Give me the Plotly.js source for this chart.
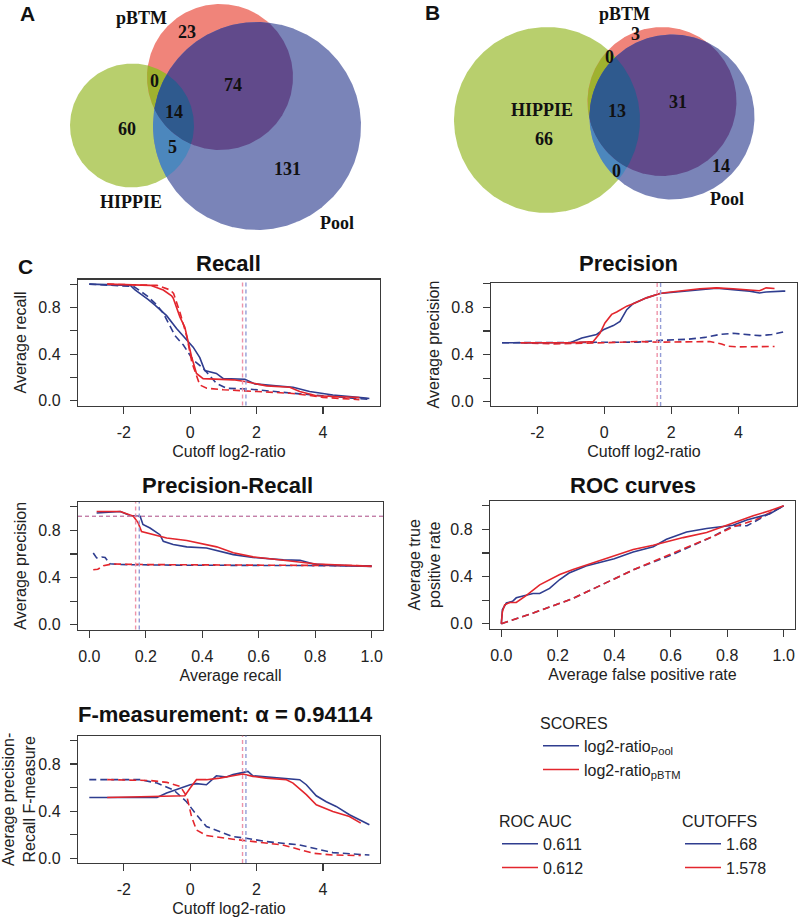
<!DOCTYPE html>
<html><head><meta charset="utf-8">
<script src="https://cdn.plot.ly/plotly-3.0.1.min.js"></script>
<style>html,body{margin:0;padding:0;background:#fff}#chart{width:800px;height:922px}</style>
</head><body><div id="chart"></div>
<script>
// ---------------- DATA ----------------
// Venn counts
const vennA_labels = ['pBTM', 'HIPPIE', 'Pool'];
const vennA_counts = {pbtm: 23, hippie: 60, pool: 131, hippie_pbtm: 0, pbtm_pool: 74, hippie_pool: 5, all: 14};
const vennB_counts = {pbtm: 3, hippie: 66, pool: 14, hippie_pbtm: 0, pbtm_pool: 31, hippie_pool: 0, all: 13};

// Recall vs cutoff
const recall_pool_x = [-3.04, -1.8, -1.66, -1.5, -1.27, -1.06, -0.71, -0.41, -0.11, 0.09, 0.29, 0.44, 0.79, 1.0, 1.65, 1.95, 2.5, 3.1, 3.6, 4.3, 5.3, 5.4];
const recall_pool_y = [1.0, 0.99, 0.95, 0.92, 0.87, 0.82, 0.73, 0.62, 0.52, 0.46, 0.37, 0.26, 0.235, 0.19, 0.185, 0.145, 0.13, 0.117, 0.08, 0.05, 0.023, 0.02];
const recall_pbtm_x = [-2.5, -1.6, -1.2, -0.81, -0.56, -0.51, -0.31, -0.16, -0.06, 0.04, 0.19, 0.39, 1.3, 1.65, 2.3, 3.0, 3.3, 3.8, 4.5, 5.1];
const recall_pbtm_y = [1.0, 0.995, 0.99, 0.95, 0.90, 0.88, 0.72, 0.63, 0.49, 0.38, 0.235, 0.19, 0.18, 0.165, 0.128, 0.117, 0.08, 0.043, 0.035, 0.028];
const recall_pool_rand_x = [-3.04, -1.7, -1.3, -1.0, -0.81, -0.46, -0.21, 0.09, 0.39, 0.79, 1.09, 1.8, 3.3, 4.3, 5.2, 5.4];
const recall_pool_rand_y = [1.0, 0.98, 0.9, 0.82, 0.75, 0.56, 0.48, 0.35, 0.28, 0.15, 0.108, 0.1, 0.06, 0.037, 0.015, 0.012];
const recall_pbtm_rand_x = [-2.5, -1.0, -0.6, -0.5, -0.3, -0.1, 0.05, 0.2, 0.29, 0.5, 1.0, 2.0, 3.0, 3.5, 4.0, 5.1];
const recall_pbtm_rand_y = [1.0, 0.99, 0.95, 0.92, 0.75, 0.55, 0.33, 0.2, 0.136, 0.108, 0.095, 0.08, 0.065, 0.05, 0.03, 0.01];

// Precision vs cutoff
const prec_pool_x = [-3.05, -1.0, -0.67, -0.23, -0.03, 0.27, 0.47, 0.67, 0.86, 1.26, 1.66, 1.86, 2.85, 3.35, 3.84, 4.34, 4.63, 4.83, 5.33, 5.4];
const prec_pool_y = [0.5, 0.502, 0.54, 0.57, 0.61, 0.645, 0.68, 0.78, 0.83, 0.88, 0.917, 0.922, 0.945, 0.962, 0.95, 0.937, 0.922, 0.93, 0.937, 0.937];
const prec_pbtm_x = [-2.5, -1.0, -0.33, -0.13, 0.02, 0.22, 0.37, 0.67, 0.86, 1.26, 1.66, 1.86, 2.85, 3.35, 3.84, 4.34, 4.63, 4.83, 5.08];
const prec_pbtm_y = [0.5, 0.5, 0.51, 0.58, 0.667, 0.74, 0.76, 0.81, 0.83, 0.88, 0.917, 0.925, 0.957, 0.965, 0.957, 0.945, 0.94, 0.965, 0.96];
const prec_pool_rand_x = [-3.05, -1.0, 0.0, 1.0, 1.7, 2.5, 3.0, 3.44, 3.84, 4.3, 4.64, 5.0, 5.4];
const prec_pool_rand_y = [0.5, 0.5, 0.5, 0.505, 0.52, 0.53, 0.545, 0.57, 0.58, 0.565, 0.56, 0.57, 0.595];
const prec_pbtm_rand_x = [-2.5, -1.5, 0.0, 1.0, 1.6, 2.5, 3.15, 3.5, 3.69, 4.0, 4.5, 5.08];
const prec_pbtm_rand_y = [0.5, 0.49, 0.5, 0.51, 0.505, 0.51, 0.51, 0.49, 0.47, 0.465, 0.465, 0.468];

// Precision-Recall
const pr_pool_x = [0.026, 0.073, 0.11, 0.144, 0.18, 0.19, 0.215, 0.25, 0.262, 0.297, 0.345, 0.415, 0.51, 0.58, 0.687, 0.746, 0.795, 0.864, 1.0];
const pr_pool_y = [0.947, 0.956, 0.96, 0.925, 0.92, 0.85, 0.82, 0.763, 0.707, 0.68, 0.66, 0.65, 0.594, 0.57, 0.55, 0.547, 0.515, 0.503, 0.495];
const pr_pbtm_x = [0.026, 0.11, 0.156, 0.173, 0.185, 0.227, 0.274, 0.345, 0.451, 0.51, 0.58, 0.687, 0.805, 1.0];
const pr_pbtm_y = [0.96, 0.96, 0.92, 0.863, 0.79, 0.763, 0.735, 0.714, 0.66, 0.61, 0.575, 0.546, 0.515, 0.495];
const pr_pool_rand_x = [0.014, 0.026, 0.044, 0.056, 0.073, 0.11, 0.3, 0.6, 1.0];
const pr_pool_rand_y = [0.608, 0.566, 0.574, 0.57, 0.517, 0.51, 0.505, 0.502, 0.5];
const pr_pbtm_rand_x = [0.014, 0.03, 0.05, 0.08, 0.2, 0.5, 1.0];
const pr_pbtm_rand_y = [0.466, 0.47, 0.5, 0.515, 0.51, 0.505, 0.5];
const pr_cut_recall = [0.177, 0.164];     // Pool, pBTM
const pr_cut_precision = [0.918, 0.918];  // Pool, pBTM

// ROC
const roc_pool_x = [0, 0.004, 0.018, 0.04, 0.053, 0.089, 0.112, 0.136, 0.171, 0.207, 0.24, 0.30, 0.35, 0.40, 0.467, 0.538, 0.585, 0.656, 0.727, 0.82, 0.869, 0.95, 1.0];
const roc_pool_y = [0, 0.12, 0.176, 0.19, 0.22, 0.24, 0.256, 0.256, 0.30, 0.375, 0.43, 0.49, 0.517, 0.55, 0.608, 0.653, 0.716, 0.778, 0.807, 0.835, 0.88, 0.93, 1.0];
const roc_pbtm_x = [0, 0.004, 0.012, 0.03, 0.053, 0.089, 0.136, 0.207, 0.254, 0.325, 0.396, 0.467, 0.538, 0.644, 0.727, 0.81, 0.892, 0.95, 1.0];
const roc_pbtm_y = [0, 0.105, 0.16, 0.18, 0.18, 0.24, 0.33, 0.418, 0.46, 0.517, 0.574, 0.63, 0.665, 0.73, 0.773, 0.844, 0.915, 0.957, 1.0];
const roc_pool_rand_x = [0, 0.1, 0.25, 0.47, 0.6, 0.75, 0.82, 0.87, 1.0];
const roc_pool_rand_y = [0, 0.08, 0.21, 0.46, 0.58, 0.74, 0.83, 0.83, 1.0];
const roc_pbtm_rand_x = [0, 0.1, 0.25, 0.47, 0.6, 0.75, 0.82, 0.9, 1.0];
const roc_pbtm_rand_y = [0, 0.08, 0.21, 0.46, 0.59, 0.74, 0.82, 0.88, 1.0];

// F-measure
const f_pool_x = [-3.04, -1.0, -0.71, -0.31, 0.0, 0.19, 0.49, 0.79, 1.09, 1.29, 1.59, 1.74, 1.89, 2.29, 2.9, 3.3, 3.5, 3.8, 4.1, 4.4, 4.8, 5.4];
const f_pool_y = [0.516, 0.516, 0.553, 0.596, 0.624, 0.633, 0.624, 0.70, 0.69, 0.71, 0.73, 0.737, 0.70, 0.69, 0.672, 0.667, 0.624, 0.53, 0.48, 0.44, 0.369, 0.284];
const f_pbtm_x = [-2.5, -0.5, -0.16, 0.0, 0.19, 0.49, 0.89, 1.29, 1.59, 1.89, 2.29, 2.9, 3.1, 3.5, 3.8, 4.3, 4.8, 5.14];
const f_pbtm_y = [0.516, 0.525, 0.53, 0.596, 0.667, 0.667, 0.68, 0.70, 0.715, 0.695, 0.68, 0.667, 0.638, 0.54, 0.454, 0.397, 0.355, 0.298];
const f_pool_rand_x = [-3.04, -1.5, -1.0, -0.5, -0.11, 0.19, 0.49, 0.99, 1.29, 1.69, 2.29, 3.3, 3.9, 4.3, 5.4];
const f_pool_rand_y = [0.667, 0.667, 0.638, 0.58, 0.48, 0.369, 0.27, 0.213, 0.184, 0.17, 0.142, 0.113, 0.077, 0.048, 0.028];
const f_pbtm_rand_x = [-2.5, -1.2, -0.7, -0.3, -0.1, 0.04, 0.19, 0.49, 1.29, 1.89, 2.79, 3.7, 4.3, 5.14];
const f_pbtm_rand_y = [0.667, 0.66, 0.644, 0.61, 0.525, 0.355, 0.24, 0.193, 0.162, 0.142, 0.113, 0.043, 0.028, 0.023];

// Legend / summary values
const score_names = ['log2-ratio<sub>Pool</sub>', 'log2-ratio<sub>pBTM</sub>'];
const roc_auc = ['0.611', '0.612'];
const cutoffs = [1.68, 1.578];
const alpha_value = '0.94114';

// ---------------- STYLE / GEOMETRY ----------------
const W = 800, H = 922;
const FONT = '"Liberation Sans", Arial, sans-serif';
const SERIF = '"Liberation Serif", "Times New Roman", serif';
const BLUE = '#2f3d8f', RED = '#e3262d';
const LBLUE = '#939dd6', LRED = '#ee93a8';
const DASH = '7px,4px', CDASH = '4px,3px';
const px = v => v / W, py = v => 1 - v / H;

// plot boxes in pixels [left, right, top, bottom]
const boxes = {
  recall: [78, 380, 279.5, 405.5],
  prec:   [491, 797, 283, 406],
  pr:     [78, 383, 502, 629.5],
  roc:    [490, 795, 501, 628.5],
  f:      [78, 380, 735.7, 863]
};
const dom = b => ({x: [px(b[0]), px(b[1])], y: [py(b[3]), py(b[2])]});

const LINEC = '#3a3a3a';
const tickFont = {family: FONT, size: 16, color: '#222'};
const titleFont = {family: FONT, size: 16, color: '#222'};
function axis(extra) {
  return Object.assign({
    showline: true, mirror: true, linecolor: LINEC, linewidth: 1.2,
    ticks: 'outside', ticklen: 7, tickwidth: 1.2, tickcolor: LINEC,
    showgrid: false, zeroline: false, tickfont: tickFont, fixedrange: true
  }, extra);
}
const yTicks = {tickmode: 'linear', tick0: 0, dtick: 0.4, tickformat: '.1f', ticklabelstandoff: 6,
  minor: {tickmode: 'linear', tick0: 0, dtick: 0.2, ticks: 'outside', ticklen: 7, tickwidth: 1.2, tickcolor: LINEC, showgrid: false}};
const cutX = {tickvals: [-2, 0, 2, 4], ticktext: ['-2', '0', '2', '4'], ticklabelstandoff: 5};
const rateX = {tickmode: 'linear', tick0: 0, dtick: 0.2, tickformat: '.1f', ticklabelstandoff: 5};

// ---------------- TRACES ----------------
const traces = [];
function line(x, y, color, dash, xa, ya, extra) {
  traces.push(Object.assign({
    type: 'scatter', mode: 'lines', x: x, y: y, xaxis: xa, yaxis: ya,
    line: {color: color, width: 1.6, dash: dash || 'solid'},
    hoverinfo: 'skip', showlegend: false
  }, extra || {}));
}
// Recall (solid lines also feed the SCORES legend)
line(recall_pool_rand_x, recall_pool_rand_y, BLUE, DASH, 'x', 'y');
line(recall_pbtm_rand_x, recall_pbtm_rand_y, RED, DASH, 'x', 'y');
line(recall_pool_x, recall_pool_y, BLUE, null, 'x', 'y', {name: score_names[0], showlegend: true, legend: 'legend'});
line(recall_pbtm_x, recall_pbtm_y, RED, null, 'x', 'y', {name: score_names[1], showlegend: true, legend: 'legend'});
// Precision
line(prec_pool_rand_x, prec_pool_rand_y, BLUE, DASH, 'x2', 'y2');
line(prec_pbtm_rand_x, prec_pbtm_rand_y, RED, DASH, 'x2', 'y2');
line(prec_pool_x, prec_pool_y, BLUE, null, 'x2', 'y2');
line(prec_pbtm_x, prec_pbtm_y, RED, null, 'x2', 'y2');
// Precision-Recall
line(pr_pool_rand_x, pr_pool_rand_y, BLUE, DASH, 'x3', 'y3');
line(pr_pbtm_rand_x, pr_pbtm_rand_y, RED, DASH, 'x3', 'y3');
line(pr_pool_x, pr_pool_y, BLUE, null, 'x3', 'y3');
line(pr_pbtm_x, pr_pbtm_y, RED, null, 'x3', 'y3');
// ROC (solid lines feed the ROC AUC legend)
line(roc_pool_rand_x, roc_pool_rand_y, BLUE, DASH, 'x4', 'y4');
line(roc_pbtm_rand_x, roc_pbtm_rand_y, RED, DASH, 'x4', 'y4');
line(roc_pool_x, roc_pool_y, BLUE, null, 'x4', 'y4', {name: roc_auc[0], showlegend: true, legend: 'legend2'});
line(roc_pbtm_x, roc_pbtm_y, RED, null, 'x4', 'y4', {name: roc_auc[1], showlegend: true, legend: 'legend2'});
// F-measure (solid lines feed the CUTOFFS legend: cutoffs are at the F maxima)
line(f_pool_rand_x, f_pool_rand_y, BLUE, DASH, 'x5', 'y5');
line(f_pbtm_rand_x, f_pbtm_rand_y, RED, DASH, 'x5', 'y5');
line(f_pool_x, f_pool_y, BLUE, null, 'x5', 'y5', {name: String(cutoffs[0]), showlegend: true, legend: 'legend3'});
line(f_pbtm_x, f_pbtm_y, RED, null, 'x5', 'y5', {name: String(cutoffs[1]), showlegend: true, legend: 'legend3'});

// ---------------- VENN ----------------
const vennGeom = {
  A: {xa: 'x6', ya: 'y6', hippie: {cx: 132, cy: 125.5, r: 62}, pbtm: {cx: 220, cy: 77, r: 73}, pool: {cx: 257, cy: 126, r: 104}},
  B: {xa: 'x7', ya: 'y7', hippie: {cx: 547, cy: 120, r: 93}, pbtm: {cx: 662, cy: 101.5, r: 74.5}, pool: {cx: 672, cy: 117, r: 82.5}}
};
const vennColors = {hippie: '#b8cf6d', pbtm: '#f0847a', pool: '#7a84b8',
  hippie_pbtm: '#9fb22f', hippie_pool: '#4c87bd', pbtm_pool: '#614a8b', all: '#2f5a8e'};
function intersection(circles) {
  const pts = [];
  circles.forEach((c, i) => {
    for (let k = 0; k < 720; k++) {
      const t = 2 * Math.PI * k / 720;
      const x = c.cx + c.r * Math.cos(t), y = c.cy + c.r * Math.sin(t);
      if (circles.every((d, j) => j === i || (x - d.cx) ** 2 + (y - d.cy) ** 2 <= d.r * d.r + 1e-6)) pts.push([x, y]);
    }
  });
  const mx = pts.reduce((s, p) => s + p[0], 0) / pts.length;
  const my = pts.reduce((s, p) => s + p[1], 0) / pts.length;
  pts.sort((a, b) => Math.atan2(a[1] - my, a[0] - mx) - Math.atan2(b[1] - my, b[0] - mx));
  pts.push(pts[0]);
  return pts;
}
function vennRegions(g) {
  const regions = [
    ['hippie', [g.hippie]], ['pbtm', [g.pbtm]], ['pool', [g.pool]],
    ['hippie_pbtm', [g.hippie, g.pbtm]], ['hippie_pool', [g.hippie, g.pool]],
    ['pbtm_pool', [g.pbtm, g.pool]], ['all', [g.hippie, g.pbtm, g.pool]]
  ];
  regions.forEach(([key, cs]) => {
    const p = intersection(cs);
    traces.push({type: 'scatter', mode: 'lines', x: p.map(q => q[0]), y: p.map(q => q[1]),
      xaxis: g.xa, yaxis: g.ya, fill: 'toself', fillcolor: vennColors[key],
      line: {width: 0, color: vennColors[key]}, hoverinfo: 'skip', showlegend: false});
  });
}
vennRegions(vennGeom.A);
vennRegions(vennGeom.B);

// Venn label positions (pixels within each venn panel)
const vennLabelPos = {
  A: {name_pbtm: [141, 17.5], name_hippie: [131, 202], name_pool: [337, 222.5],
      pbtm: [187, 32], hippie_pbtm: [154, 81], pbtm_pool: [233, 85], all: [174, 112], hippie: [127, 129], hippie_pool: [172, 146.5], pool: [287, 169]},
  B: {name_pbtm: [624, 13.5], name_hippie: [542, 110], name_pool: [727, 198.5],
      pbtm: [635, 34], hippie_pbtm: [609, 56.5], pbtm_pool: [678, 102], all: [617, 110.5], hippie: [544, 139], hippie_pool: [616, 171], pool: [721, 165.5]}
};
const annotations = [];
const vennFont = {family: SERIF, size: 18, color: '#111', weight: 'bold'};
function vennText(set, counts) {
  const g = vennGeom[set], pos = vennLabelPos[set];
  const names = {name_pbtm: vennA_labels[0], name_hippie: vennA_labels[1], name_pool: vennA_labels[2]};
  Object.keys(pos).forEach(k => {
    const txt = k.startsWith('name_') ? names[k] : String(counts[k]);
    annotations.push({xref: g.xa, yref: g.ya, x: pos[k][0], y: pos[k][1], text: txt,
      showarrow: false, font: vennFont, xanchor: 'center', yanchor: 'middle'});
  });
}
vennText('A', vennA_counts);
vennText('B', vennB_counts);

// Panel letters and titles
const letterFont = {family: FONT, size: 21, color: '#111', weight: 'bold'};
const panelTitleFont = {family: FONT, size: 22, color: '#111', weight: 'bold'};
function paperText(text, x, y, font) {
  annotations.push({xref: 'paper', yref: 'paper', x: px(x), y: py(y), text: text, showarrow: false,
    font: font, xanchor: 'center', yanchor: 'middle'});
}
paperText('A', 27, 13.5, letterFont);
paperText('B', 432, 12.5, letterFont);
paperText('C', 25, 266, letterFont);
paperText('Recall', 228.5, 263, panelTitleFont);
paperText('Precision', 628, 263, panelTitleFont);
paperText('Precision-Recall', 227.5, 486, panelTitleFont);
paperText('ROC curves', 632.5, 486, panelTitleFont);
paperText('F-measurement: \u03b1 = ' + alpha_value, 226, 714, panelTitleFont);

// ---------------- SHAPES: cutoff markers ----------------
const shapes = [];
const cutColors = [LBLUE, LRED];
[['x', 'y'], ['x2', 'y2'], ['x5', 'y5']].forEach(([xa, ya]) => {
  cutoffs.forEach((c, i) => shapes.push({type: 'line', xref: xa, yref: ya + ' domain', x0: c, x1: c, y0: 0, y1: 1,
    line: {color: cutColors[i], width: 1.4, dash: CDASH}}));
});
pr_cut_recall.forEach((r, i) => shapes.push({type: 'line', xref: 'x3', yref: 'y3 domain', x0: r, x1: r, y0: 0, y1: 1,
  line: {color: cutColors[i], width: 1.4, dash: CDASH}}));
pr_cut_precision.forEach((p, i) => shapes.push({type: 'line', xref: 'x3 domain', yref: 'y3', x0: 0, x1: 1, y0: p, y1: p,
  line: {color: i === 0 ? '#a98ac4' : '#c77fa6', width: 1.3, dash: CDASH}}));

// ---------------- LAYOUT ----------------
const dR = dom(boxes.recall), dP = dom(boxes.prec), dPR = dom(boxes.pr), dROC = dom(boxes.roc), dF = dom(boxes.f);
const legFont = {family: FONT, size: 16, color: '#222'};
const legendBase = {xanchor: 'left', yanchor: 'top', bgcolor: 'rgba(0,0,0,0)', borderwidth: 0,
  font: legFont, tracegroupgap: 0, itemwidth: 36};
const layout = {
  width: W, height: H, margin: {l: 0, r: 0, t: 0, b: 0},
  paper_bgcolor: '#fff', plot_bgcolor: 'rgba(0,0,0,0)',
  showlegend: true,
  xaxis: axis(Object.assign({domain: dR.x, anchor: 'y', range: [-3.38, 5.72],
    title: {text: 'Cutoff log2-ratio', font: titleFont, standoff: 5}}, cutX)),
  yaxis: axis(Object.assign({domain: dR.y, anchor: 'x', range: [-0.04, 1.04],
    title: {text: 'Average recall', font: titleFont, standoff: 7}}, yTicks)),
  xaxis2: axis(Object.assign({domain: dP.x, anchor: 'y2', range: [-3.38, 5.75],
    title: {text: 'Cutoff log2-ratio', font: titleFont, standoff: 5}}, cutX)),
  yaxis2: axis(Object.assign({domain: dP.y, anchor: 'x2', range: [-0.036, 1.006],
    title: {text: 'Average precision', font: titleFont, standoff: 7}}, yTicks)),
  xaxis3: axis(Object.assign({domain: dPR.x, anchor: 'y3', range: [-0.04, 1.04],
    title: {text: 'Average recall', font: titleFont, standoff: 5}}, rateX)),
  yaxis3: axis(Object.assign({domain: dPR.y, anchor: 'x3', range: [-0.04, 1.04],
    title: {text: 'Average precision', font: titleFont, standoff: 7}}, yTicks)),
  xaxis4: axis(Object.assign({domain: dROC.x, anchor: 'y4', range: [-0.04, 1.04],
    title: {text: 'Average false positive rate', font: titleFont, standoff: 5}}, rateX)),
  yaxis4: axis(Object.assign({domain: dROC.y, anchor: 'x4', range: [-0.04, 1.04],
    title: {text: 'Average true<br>positive rate', font: titleFont, standoff: 5}}, yTicks)),
  xaxis5: axis(Object.assign({domain: dF.x, anchor: 'y5', range: [-3.38, 5.72],
    title: {text: 'Cutoff log2-ratio', font: titleFont, standoff: 5}}, cutX)),
  yaxis5: axis(Object.assign({domain: dF.y, anchor: 'x5', range: [-0.04, 1.04],
    title: {text: 'Average precision-<br>Recall F-measure', font: titleFont, standoff: 1}}, yTicks)),
  xaxis6: {domain: [0, 0.5], range: [0, 400], visible: false, fixedrange: true, anchor: 'y6'},
  yaxis6: {domain: [py(250), 1], range: [250, 0], visible: false, fixedrange: true, anchor: 'x6'},
  xaxis7: {domain: [0.5, 1], range: [400, 800], visible: false, fixedrange: true, anchor: 'y7'},
  yaxis7: {domain: [py(250), 1], range: [250, 0], visible: false, fixedrange: true, anchor: 'x7'},
  legend: Object.assign({x: px(538), y: py(708), title: {text: 'SCORES', font: legFont}}, legendBase),
  legend2: Object.assign({x: px(497), y: py(806), title: {text: 'ROC AUC', font: legFont}}, legendBase),
  legend3: Object.assign({x: px(680), y: py(806), title: {text: 'CUTOFFS', font: legFont}}, legendBase),
  annotations: annotations,
  shapes: shapes
};
Plotly.newPlot('chart', traces, layout, {staticPlot: true, displayModeBar: false});
</script></body></html>
